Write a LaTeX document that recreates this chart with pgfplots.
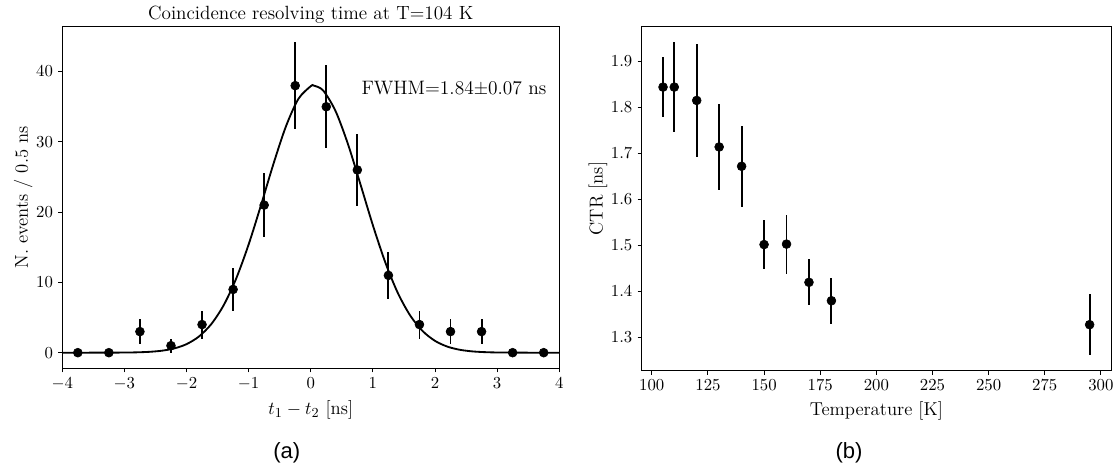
\documentclass[border=0pt]{standalone}
\usepackage{fontspec}
\newfontfamily\arialfont{Liberation Sans}
\usepackage{pgfplots}
\pgfplotsset{compat=1.18}
\pgfplotsset{
  mpl/.style={
    scale only axis,
    tick align=outside, xtick pos=bottom, ytick pos=left,
    major tick length=2.6pt,
    axis line style={line width=0.6pt},
    every tick/.style={black, line width=0.6pt},
    ticklabel style={font=\fontsize{10.9}{13}\selectfont},
    label style={font=\fontsize{12.2}{14}\selectfont},
    ylabel shift=-4.5pt,
    clip=false,
  },
  ebar/.style={only marks, mark=*, mark size=2.9pt, black,
    mark options={draw=black, fill=black},
    error bars/.cd, y dir=both, y explicit, error mark=none,
    error bar style={line width=1.25pt, black}},
}
\begin{document}
\begin{tikzpicture}
\useasboundingbox (0,0) rectangle (730.7pt,307.2pt);
\begin{axis}[mpl,
  at={(40.7pt,66.5pt)}, anchor=south west,
  width=324.8pt, height=223.3pt,
  xmin=-4, xmax=4, ymin=-2.22, ymax=46.4,
  xtick={-4,-3,-2,-1,0,1,2,3,4}, ytick={0,10,20,30,40},
  xlabel={$t_1 - t_2$ [ns]},
  ylabel={N. events / 0.5 ns},
]
\addplot[black, line width=1.2pt, smooth] coordinates {
(-4.0,0.0) (-3.4,0.003) (-3.0,0.0185) (-2.8,0.0488) (-2.6,0.120) (-2.4,0.277)
(-2.2,0.599) (-2.0,1.213) (-1.8,2.299) (-1.6,4.080) (-1.4,6.781) (-1.2,10.558)
(-1.0,15.393) (-0.8,21.019) (-0.6,26.877) (-0.4,32.189) (-0.2,36.102) (0.0,37.922)
(0.05,38.0) (0.2,37.306) (0.4,34.369) (0.6,29.657) (0.8,23.964) (1.0,18.135)
(1.2,12.853) (1.4,8.531) (1.6,5.303) (1.8,3.088) (2.0,1.683) (2.2,0.860)
(2.4,0.411) (2.6,0.184) (2.8,0.077) (3.0,0.030) (3.4,0.003) (4.0,0.0)
};
\addplot[ebar] table[x=x, y=y, y error=e] {
x y e
-3.75 0 0
-3.25 0 0
-2.75 3 1.732
-2.25 1 1.0
-1.75 4 2.0
-1.25 9 3.0
-0.75 21 4.583
-0.25 38 6.164
0.25 35 5.916
0.75 26 5.099
1.25 11 3.317
1.75 4 2.0
2.25 3 1.732
2.75 3 1.732
3.25 0 0
3.75 0 0
};
\node[anchor=base west, font=\fontsize{12.7}{15}\selectfont] at (axis cs:0.73,36.8) {FWHM=1.84$\pm$0.07 ns};
\node[anchor=base, inner sep=0pt, font=\fontsize{12.5}{15}\selectfont] at ([yshift=4.4pt]rel axis cs:0.5,1) {Coincidence resolving time at T=104 K};
\end{axis}
\begin{axis}[mpl,
  at={(419.4pt,64.9pt)}, anchor=south west,
  width=306.7pt, height=225.1pt,
  xmin=95.5, xmax=304.5, ymin=1.228, ymax=1.976,
  xtick={100,125,150,175,200,225,250,275,300},
  ytick={1.3,1.4,1.5,1.6,1.7,1.8,1.9},
  yticklabel style={/pgf/number format/fixed, /pgf/number format/precision=1, /pgf/number format/fixed zerofill},
  xlabel={Temperature [K]},
  ylabel={CTR [ns]},
]
\addplot[ebar] table[x=x, y=y, y error=e] {
x y e
105 1.844 0.066
110 1.844 0.098
120 1.815 0.123
130 1.714 0.094
140 1.672 0.088
150 1.502 0.054
160 1.503 0.064
170 1.420 0.050
180 1.380 0.050
295 1.328 0.066
};
\end{axis}
\node[anchor=base, font=\arialfont\fontsize{14.4}{17}\selectfont] at (187.4pt,7.4pt) {(a)};
\node[anchor=base, font=\arialfont\fontsize{14.4}{17}\selectfont] at (554.9pt,7.4pt) {(b)};
\end{tikzpicture}
\end{document}
